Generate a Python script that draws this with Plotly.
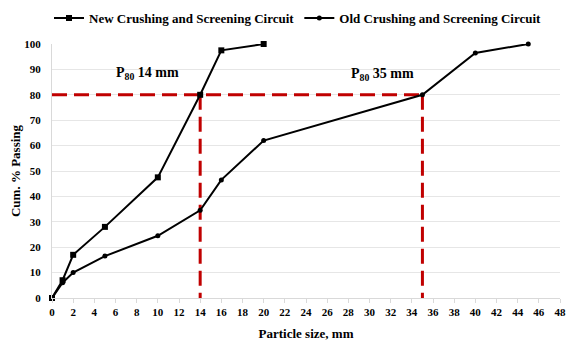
import plotly.graph_objects as go

new_x = [0, 1, 2, 5, 10, 14, 16, 20]
new_y = [0, 7, 17, 28, 47.5, 80, 97.5, 100]
old_x = [0, 1, 2, 5, 10, 14, 16, 20, 35, 40, 45]
old_y = [0, 6, 10, 16.5, 24.5, 34.5, 46.5, 62, 80, 96.5, 100]
p80_new = 14
p80_old = 35
p80_level = 80

FONT = "Liberation Serif"
RED = "#c00000"
DASH = "15px,7px"

fig = go.Figure()
fig.add_trace(go.Scatter(x=[0, p80_old], y=[p80_level, p80_level], mode="lines",
                         line=dict(color=RED, width=3, dash=DASH), showlegend=False, hoverinfo="skip"))
fig.add_trace(go.Scatter(x=[p80_new, p80_new], y=[p80_level, 0], mode="lines",
                         line=dict(color=RED, width=3, dash=DASH), showlegend=False, hoverinfo="skip"))
fig.add_trace(go.Scatter(x=[p80_old, p80_old], y=[p80_level, 0], mode="lines",
                         line=dict(color=RED, width=3, dash=DASH), showlegend=False, hoverinfo="skip"))

fig.add_trace(go.Scatter(x=new_x, y=new_y, mode="lines+markers", name="<b>New Crushing and Screening Circuit</b>",
                         line=dict(color="black", width=2), marker=dict(symbol="square", size=6, color="black"),
                         cliponaxis=False))
fig.add_trace(go.Scatter(x=old_x, y=old_y, mode="lines+markers", name="<b>Old Crushing and Screening Circuit</b>",
                         line=dict(color="black", width=2), marker=dict(symbol="circle", size=5, color="black"),
                         cliponaxis=False))

fig.add_annotation(x=9, y=88.5, text="<b>P<sub>80</sub> 14 mm</b>", showarrow=False,
                   font=dict(family=FONT, size=14, color="black"))
fig.add_annotation(x=31.2, y=88, text="<b>P<sub>80</sub> 35 mm</b>", showarrow=False,
                   font=dict(family=FONT, size=14, color="black"))

fig.update_layout(
    width=558, height=335,
    margin=dict(l=44, r=6, t=36, b=45, autoexpand=False),
    paper_bgcolor="white", plot_bgcolor="white",
    font=dict(family=FONT, size=10, color="black"),
    legend=dict(orientation="h", x=290 / 558, xanchor="center", xref="container",
                y=0.970, yanchor="middle", yref="container",
                font=dict(family=FONT, size=13, color="black"), itemwidth=30),
    xaxis=dict(range=[0, 48], dtick=2, tick0=0, showgrid=False, showline=True, linecolor="#d9d9d9",
               ticks="outside", ticklen=4, tickcolor="#d9d9d9", automargin=False,
               ticklabeloverflow="allow",
               tickfont=dict(family=FONT, size=11, color="#000"),
               tickprefix="<b>", ticksuffix="</b>",
               title=dict(text="<b>Particle size, mm</b>", font=dict(family=FONT, size=13), standoff=11),
               zeroline=False),
    yaxis=dict(range=[0, 100], dtick=10, showgrid=True, gridcolor="#e6e6e6", showline=True, linecolor="#d9d9d9",
               tickfont=dict(family=FONT, size=11), zeroline=False, automargin=False,
               ticklabelstandoff=8,
               tickprefix="<b>", ticksuffix="</b>",
               title=dict(text="<b>Cum. % Passing</b>", font=dict(family=FONT, size=13), standoff=13)),
)

fig.write_html("out.html")
